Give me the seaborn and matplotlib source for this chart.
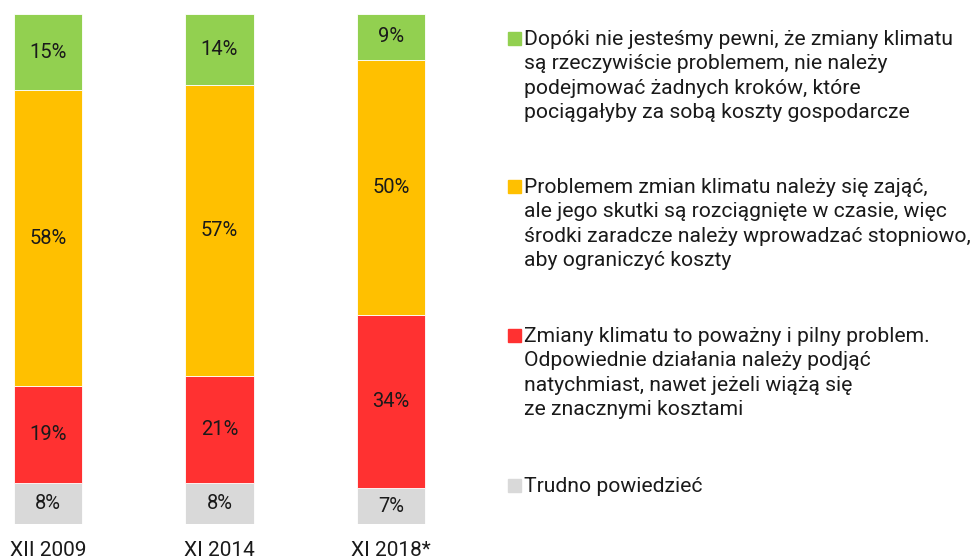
import numpy as np
import pandas as pd
import seaborn as sns
import matplotlib.pyplot as plt
from matplotlib.patches import Rectangle

sns.set_theme(style="white")
plt.rcParams['font.family'] = ['Roboto', 'DejaVu Sans']

# data (percent of answers)
periods = ["XII 2009", "XI 2014", "XI 2018*"]
hard_to_say = [8, 8, 7]
urgent = [19, 21, 34]
gradual = [58, 57, 50]
wait_first = [15, 14, 9]

series = [hard_to_say, urgent, gradual, wait_first]
colors = ["#D9D9D9", "#FF3131", "#FFC000", "#92D050"]

labels = [
    "Trudno powiedzieć",
    "Zmiany klimatu to poważny i pilny problem.\nOdpowiednie działania należy podjąć\nnatychmiast, nawet jeżeli wiążą się\nze znacznymi kosztami",
    "Problemem zmian klimatu należy się zająć,\nale jego skutki są rozciągnięte w czasie, więc\nśrodki zaradcze należy wprowadzać stopniowo,\naby ograniczyć koszty",
    "Dopóki nie jesteśmy pewni, że zmiany klimatu\nsą rzeczywiście problemem, nie należy\npodejmować żadnych kroków, które\npociągałyby za sobą koszty gospodarcze",
]

TXT = "#1a1a1a"
W, H = 977, 560

fig = plt.figure(figsize=(W / 100, H / 100), dpi=100)
ax = fig.add_axes([0, 36 / H, 480 / W, 510 / H])

bottom = np.zeros(len(periods))
for vals, col in zip(series, colors):
    df = pd.DataFrame({"period": periods, "value": vals})
    sns.barplot(data=df, x="period", y="value", color=col, width=0.397,
                bottom=bottom, errorbar=None, saturation=1,
                edgecolor="white", linewidth=0.6, ax=ax)
    for i, v in enumerate(vals):
        ax.text(i, bottom[i] + v / 2, f"{v}%", ha="center", va="center",
                fontsize=14.5, color=TXT)
    bottom = bottom + np.array(vals)

ax.set_ylim(0, 100)
ax.set_xlim(-48 / 171.5, -48 / 171.5 + 480 / 171.5)
ax.set_xlabel("")
ax.set_ylabel("")
ax.set_yticks([])
ax.tick_params(axis="x", length=0, pad=12.5, labelsize=15, labelcolor=TXT)
sns.despine(ax=ax, left=True, bottom=True)

# legend on the right, markers aligned with the first line
tops = [479, 329, 180, 32]
for lab, col, top in zip(labels, colors, tops):
    fig.patches.append(Rectangle((508 / W, 1 - (top + 13) / H), 12.5 / W, 13 / H,
                                 transform=fig.transFigure, color=col))
    fig.text(524 / W, 1 - (top - 2) / H, lab, ha="left", va="top",
             fontsize=15.2, color=TXT, linespacing=1.36)

fig.savefig("out.png", dpi=100)
